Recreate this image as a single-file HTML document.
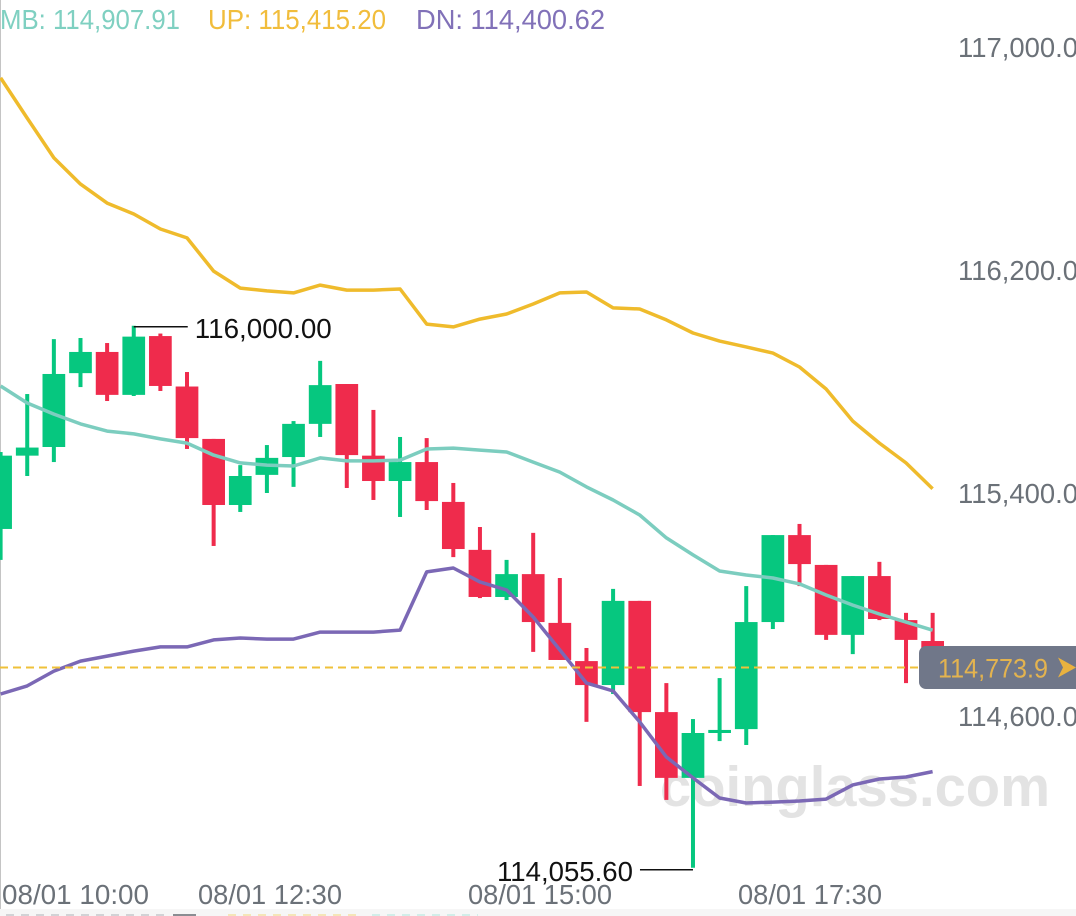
<!DOCTYPE html>
<html lang="en">
<head>
<meta charset="utf-8">
<title>BTC candlestick chart with Bollinger Bands</title>
<style>
  html, body { margin: 0; padding: 0; background: #fff; }
  body { width: 1076px; height: 916px; overflow: hidden; }
  svg { display: block; font-family: "Liberation Sans", sans-serif; }
</style>
</head>
<body>
<svg id="chart" width="1076" height="916" viewBox="0 0 1076 916" xmlns="http://www.w3.org/2000/svg">
  <rect x="0" y="0" width="1076" height="916" fill="#ffffff"/>
  <rect x="0" y="0" width="1" height="916" fill="#c4c4c4"/>
  <text x="660" y="806" font-size="56.4" font-weight="700" fill="#e3e3e3" textLength="390" lengthAdjust="spacingAndGlyphs">coinglass.com</text>
  <g id="candles"></g>
  <g id="lines"></g>
  <line id="price-line" x1="0" x2="919" stroke="#efc13a" stroke-width="2" stroke-dasharray="8 5"/>
  <g id="annotations">
    <line id="high-line" stroke="#111111" stroke-width="1.5"/>
    <text id="high-text" font-size="28" fill="#111111" textLength="137" lengthAdjust="spacingAndGlyphs">116,000.00</text>
    <line id="low-line" stroke="#111111" stroke-width="1.5"/>
    <text id="low-text" font-size="28" fill="#111111" textLength="136" lengthAdjust="spacingAndGlyphs">114,055.60</text>
  </g>
  <g id="price-tag">
    <rect id="tag-box" x="919" width="170" height="43" rx="7" fill="#707789"/>
    <text id="tag-text" x="938" font-size="27" fill="#e3b34f" textLength="110" lengthAdjust="spacingAndGlyphs">114,773.9</text>
    <path id="tag-arrow" d="M0 -10 L18 0 L0 10 L5 0 Z" fill="#e9b23f"/>
  </g>
  <g id="y-axis"></g>
  <g id="x-axis"></g>
  <g>
    <text x="0" y="29" font-size="28" fill="#7fd0c1" textLength="180" lengthAdjust="spacingAndGlyphs">MB: 114,907.91</text>
    <text x="208" y="29" font-size="28" fill="#f1bd3c" textLength="178" lengthAdjust="spacingAndGlyphs">UP: 115,415.20</text>
    <text x="416" y="29" font-size="28" fill="#8171b8" textLength="189" lengthAdjust="spacingAndGlyphs">DN: 114,400.62</text>
  </g>
  <g>
    <rect x="0" y="909" width="1076" height="7" fill="#f6f6f6"/>
    <line x1="6" x2="166" y1="915" y2="915" stroke="#d2d3d6" stroke-width="2" stroke-dasharray="8 7"/>
    <rect x="173" y="914" width="23" height="2" fill="#8a8d92"/>
    <line x1="228" x2="358" y1="915" y2="915" stroke="#f5e6b8" stroke-width="2" stroke-dasharray="8 7"/>
    <line x1="372" x2="478" y1="915" y2="915" stroke="#d2eee9" stroke-width="2" stroke-dasharray="8 7"/>
  </g>
</svg>
<script>
// Prices (one candle every 15 minutes)
const opens  = [115271,115534,115565,115830,115906,115752,115963,115782,115594,115357,115465,115529,115648,115791,115534,115443,115511,115368,115196,115027,115109,114934,114797,114711,115013,114614,114378,114539,114553,114937,115249,115142,114891,115102,114944,114869];
const closes = [115534,115563,115827,115906,115752,115961,115784,115597,115357,115461,115526,115648,115787,115536,115443,115511,115371,115199,115027,115109,114937,114801,114711,115013,114614,114378,114539,114550,114937,115249,115145,114891,115102,114948,114873,114773.9];
const highs  = [115547,115755,115952,115956,115938,116000,115972,115834,115594,115500,115572,115658,115874,115791,115698,115601,115597,115436,115278,115160,115257,115095,114844,115056,115013,114718,114589,114736,115066,115249,115289,115142,115102,115153,114970,114970];
const lows   = [115160,115461,115511,115780,115730,115748,115766,115558,115210,115332,115400,115422,115601,115418,115375,115314,115339,115170,115023,115016,114830,114801,114579,114679,114349,114299,114055.6,114510,114496,114912,115066,114873,114822,114944,114718,114773.9];

const midBand   = [115784,115723,115683,115648,115622,115612,115594,115579,115536,115508,115500,115497,115526,115515,115515,115518,115558,115561,115554,115547,115511,115475,115422,115375,115321,115239,115178,115120,115106,115095,115074,115034,114998,114966,114937,114907.91];
const upperBand = [116889,116745,116602,116508,116440,116401,116347,116315,116196,116135,116125,116118,116146,116128,116128,116132,116006,115996,116024,116042,116078,116118,116121,116064,116060,116021,115974,115945,115924,115902,115852,115773,115658,115579,115508,115415.2];
const lowerBand = [114679,114708,114761,114797,114815,114833,114848,114848,114873,114880,114876,114876,114901,114901,114901,114908,115117,115131,115081,115052,114955,114837,114718,114690,114579,114453,114378,114306,114288,114291,114295,114302,114353,114374,114381,114400.62];

const priceTicks = [117000,116200,115400,114600];
const priceTickLabels = ["117,000.0","116,200.0","115,400.0","114,600.0"];
const timeTickLabels = ["08/01 10:00","08/01 12:30","08/01 15:00","08/01 17:30"];
const timeTickBars = [0,10,20,30];

const SVG_NS = "http://www.w3.org/2000/svg";
const xBar = i => 0.6 + i * 26.63;
const yPrice = p => 47 + (117000 - p) * 223 / 800;
const xLabel = bar => Math.max(2, bar * 27 - 72);

function make(tag, attrs, parent) {
  const el = document.createElementNS(SVG_NS, tag);
  for (const k in attrs) el.setAttribute(k, attrs[k]);
  parent.appendChild(el);
  return el;
}

const candleGroup = document.getElementById("candles");
opens.forEach((o, i) => {
  const c = closes[i];
  const up = c >= o;
  const col = up ? "#06c77f" : "#ef2b4c";
  const top = yPrice(Math.max(o, c));
  const bot = yPrice(Math.min(o, c));
  const wick = make("rect", { x: xBar(i) - 2, y: yPrice(highs[i]), width: 4, height: Math.max(0, yPrice(lows[i]) - yPrice(highs[i])), fill: col }, candleGroup);
  
  
  const body = make("rect", { x: xBar(i) - 11.35, y: top, width: 22.7, height: Math.max(2, bot - top), fill: col }, candleGroup);
  
  
});

const lineGroup = document.getElementById("lines");
function drawLine(values, color) {
  const pts = values.map((v, i) => xBar(i).toFixed(1) + "," + yPrice(v).toFixed(1)).join(" ");
  return make("polyline", { points: pts, fill: "none", stroke: color, "stroke-width": 3.5, "stroke-linejoin": "round" }, lineGroup);
}
const midLine = drawLine(midBand, "#7ccdbf");


const upperLine = drawLine(upperBand, "#efbb2c");


const lowerLine = drawLine(lowerBand, "#7b68b5");



// Current price line and tag
const lastY = yPrice(closes[closes.length - 1]);
const priceLine = document.getElementById("price-line");
priceLine.setAttribute("y1", lastY);
priceLine.setAttribute("y2", lastY);
document.getElementById("tag-box").setAttribute("y", lastY - 21.5);
document.getElementById("tag-text").setAttribute("y", lastY + 10);
document.getElementById("tag-arrow").setAttribute("transform", "translate(1058 " + lastY + ")");

// High / low markers
const highIdx = highs.indexOf(Math.max(...highs));
const lowIdx = lows.indexOf(Math.min(...lows));
const hy = yPrice(highs[highIdx]) + 1;
const ly = yPrice(lows[lowIdx]) + 2;
const highLine = document.getElementById("high-line");
highLine.setAttribute("x1", xBar(highIdx));
highLine.setAttribute("x2", xBar(highIdx) + 54);
highLine.setAttribute("y1", hy);
highLine.setAttribute("y2", hy);
const highText = document.getElementById("high-text");
highText.setAttribute("x", xBar(highIdx) + 61);
highText.setAttribute("y", hy + 11);
const lowLine = document.getElementById("low-line");
lowLine.setAttribute("x1", xBar(lowIdx));
lowLine.setAttribute("x2", xBar(lowIdx) - 53);
lowLine.setAttribute("y1", ly);
lowLine.setAttribute("y2", ly);
const lowText = document.getElementById("low-text");
lowText.setAttribute("x", xBar(lowIdx) - 196);
lowText.setAttribute("y", ly + 11);

// Axes
const yAxis = document.getElementById("y-axis");
priceTicks.forEach((p, i) => {
  const t = make("text", { x: 958, y: yPrice(p) + 10, "font-size": 28, fill: "#6b7178", textLength: 120, lengthAdjust: "spacingAndGlyphs" }, yAxis);
  t.textContent = priceTickLabels[i];
  
  
});
const xAxis = document.getElementById("x-axis");
timeTickBars.forEach((bar, i) => {
  const t = make("text", { x: xLabel(bar), y: 904, "font-size": 28, fill: "#6b7178", textLength: bar === 0 ? 147 : 144, lengthAdjust: "spacingAndGlyphs" }, xAxis);
  t.textContent = timeTickLabels[i];
  
  
});
</script>
</body>
</html>
